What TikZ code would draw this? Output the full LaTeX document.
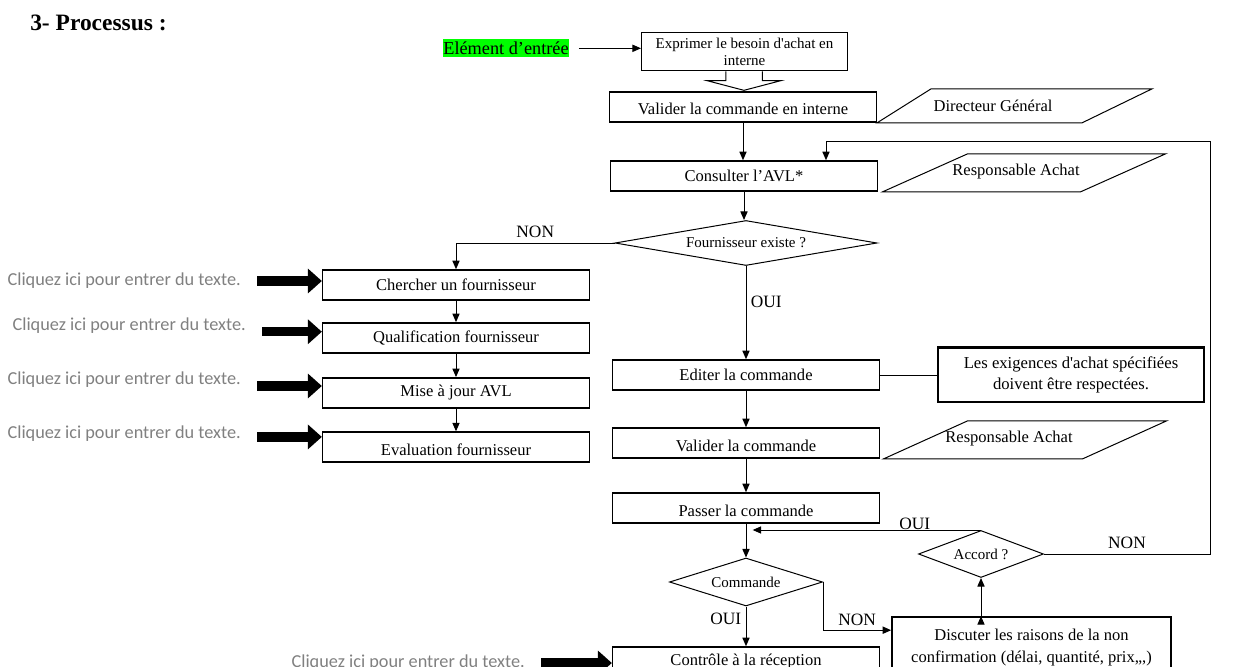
\documentclass[tikz,border=0pt]{standalone}
\usepackage{fontspec}
\setmainfont{Liberation Serif}
\newfontfamily\calibri{Carlito}
\usepackage{tikz}
\usetikzlibrary{shapes.geometric, arrows.meta, positioning}
\definecolor{grisclic}{RGB}{128,128,128}
\definecolor{surligne}{RGB}{0,255,0}

\begin{document}
\begin{tikzpicture}[x=0.75pt, y=-0.75pt, node distance=17pt,
  >={Triangle[length=6.4pt, width=5.4pt]},
  every node/.style={font=\fontsize{12.4}{15}\selectfont},
  etape/.style={draw, line width=1.2pt, minimum width=200pt, minimum height=22.5pt, inner sep=0pt},
  coupe/.style={etape, text height=12pt, text depth=0pt},
  test/.style={diamond, draw, line width=0.75pt, inner sep=0pt, font=\fontsize{11.25}{13}\selectfont},
  role/.style={draw, line width=0.75pt},
  reponse/.style={font=\fontsize{13}{15}\selectfont},
  clic/.style={anchor=east, inner sep=0pt, text=grisclic, font=\calibri\fontsize{13.7}{16}\selectfont},
  fleche/.style={line width=7pt, -{Triangle[length=10.5pt, width=18pt]}},
  lien/.style={->, line width=0.75pt}]

  \useasboundingbox (0,0) rectangle (1233,667);
  \clip (0,0) rectangle (1233,667);

  % titre et entree
  \node[anchor=base west, inner sep=0pt, font=\bfseries\fontsize{17.6}{20}\selectfont] (titre) at (30,30.7) {3- Processus :};
  \node[fill=surligne, inner sep=0pt, minimum height=13.5pt, font=\fontsize{13.7}{16}\selectfont] (entree) at (506,48.3) {Elément d’entrée};
  \node[draw, line width=0.75pt, minimum width=154.5pt, minimum height=29pt, inner sep=0pt, align=center,
    font=\fontsize{11.25}{12.75}\selectfont] (besoin) at (744.5,51.5) {Exprimer le besoin d\textquotesingle achat en\\interne};

  % colonne principale
  \node[coupe] (valint) at (743,107) {Valider la commande en interne};
  \node[etape] (avl) at (744,176) {Consulter l’AVL*};
  \node[test, aspect=5.8, minimum width=196.5pt, minimum height=33.75pt] (existe) at (746,243) {Fournisseur existe ?};
  \node[etape] (editer) at (746,375) {Editer la commande};
  \node[coupe] (valcmd) at (746,443) {Valider la commande};
  \node[coupe] (passer) at (746,508) {Passer la commande};
  \node[test, aspect=3.2, minimum width=114.75pt, minimum height=36pt] (cmd) at (746,582) {Commande};
  \node[etape] (controle) at (746,662) {Contrôle à la réception};
  \node[test, aspect=2.66, minimum width=93.75pt, minimum height=35.25pt] (accord) at (981,554) {Accord ?};
  \node[etape, minimum width=209.25pt, minimum height=46.5pt, align=center, font=\fontsize{12.4}{16.5}\selectfont]
    (discuter) at (1031.5,648) {Discuter les raisons de la non\\confirmation (délai, quantité, prix,,,)};
  \node[etape, line width=1.8pt, minimum width=199.5pt, minimum height=40.8pt, align=center, font=\fontsize{12.5}{15.75}\selectfont]
    (exig) at (1071,374.5) {Les exigences d\textquotesingle achat spécifiées\\doivent être respectées.};

  % colonne fournisseur
  \node[etape] (chercher) at (456,285) {Chercher un fournisseur};
  \node[etape, below=16pt of chercher] (qualif) {Qualification fournisseur};
  \node[etape, below=17.5pt of qualif] (majavl) {Mise à jour AVL};
  \node[coupe, below=17pt of majavl] (evaluation) {Evaluation fournisseur};

  \node[clic] (clic1) at (241,281) {Cliquez ici pour entrer du texte.};
  \node[clic] (clic2) at (246,326) {Cliquez ici pour entrer du texte.};
  \node[clic] (clic3) at (241,380) {Cliquez ici pour entrer du texte.};
  \node[clic] (clic4) at (241,434) {Cliquez ici pour entrer du texte.};
  \node[clic] (clic5) at (525,663) {Cliquez ici pour entrer du texte.};

  % responsables
  \draw[role] (valint.south east) -- ++(54,-34) -- ++(221,0) -- ++(-70,34) -- cycle;
  \node (dg) at (993,106) {Directeur Général};
  \draw[role] ([xshift=3.4pt]avl.south east) -- ++(85,-38) -- ++(198,0) -- ++(-85,38) -- cycle;
  \node (ra1) at (1016,172) {Responsable Achat};
  \draw[role] ([xshift=2.7pt]valcmd.south east) -- ++(84,-38) -- ++(199,0) -- ++(-84,38) -- cycle;
  \node (ra2) at (1009,439) {Responsable Achat};

  % fleche creuse
  \draw[line width=0.75pt] ([xshift=-13.9pt]besoin.south) -- ++(0,9.3) -- ++(-19,0) -- ++(37,9.7)
    -- ++(37,-9.7) -- ++(-18.7,0) -- ++(0,-9.3);

  % liens
  \draw[lien]
    (entree.east) edge[shorten <=7.5pt] (entree.east -| besoin.west)
    (valint.south) edge (valint.south |- avl.north)
    (avl.south) edge (avl.south |- existe.north)
    (editer.south) edge (valcmd.north)
    (valcmd.south) edge (passer.north)
    (passer.south) edge (cmd.north)
    (chercher) edge (qualif)
    (qualif) edge (majavl)
    (majavl) edge (evaluation)
    (accord.south |- discuter.north) edge (accord.south);

  \draw[lien] (existe.west) -| node[reponse, pos=0.25, above] {NON} (chercher.north);
  \draw[lien] (existe.south) -- node[reponse, pos=0.38, right] {OUI} (existe.south |- editer.north);
  \draw[line width=0.75pt] (editer.east) -- (editer.east -| exig.west);
  \draw[lien] (cmd.south) -- node[reponse, pos=0.3, left] {OUI} (controle.north);
  \draw[lien] (cmd.east) |- node[reponse, pos=0.75, above] {NON} ([yshift=-10.5pt]discuter.north west);
  \draw[lien] (accord.north) -- node[reponse, pos=0.29, above, inner sep=0pt] {OUI} ([xshift=5pt]passer.south |- accord.north);
  \draw[lien] (accord.east) -- node[reponse, above] {NON} ++(166,0) -- ++(0,-412) -| ([xshift=61.5pt]avl.north);

  % fleches pleines
  \foreach \c/\b/\d in {clic1/chercher/0, clic2/qualif/-4.3, clic3/majavl/-4.5, clic4/evaluation/-2.2, clic5/controle/0}
    \draw[fleche] ([shift={(12pt,\d pt)}]\c.east) -- ([yshift=\d pt]\c.east -| \b.west);
\end{tikzpicture}
\end{document}
